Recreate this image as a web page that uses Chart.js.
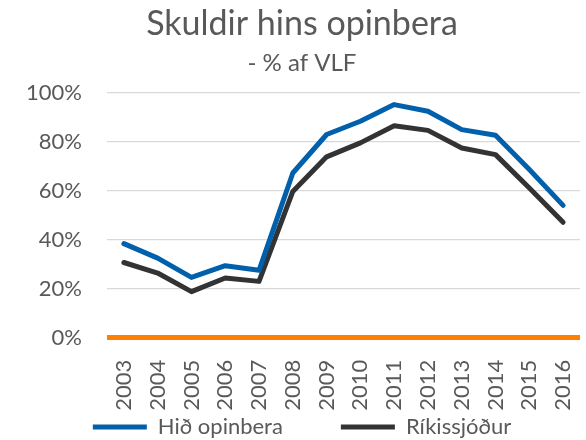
<!DOCTYPE html>
<html>
<head>
<meta charset="utf-8">
<script src="https://cdn.jsdelivr.net/npm/chart.js@4/dist/chart.umd.min.js"></script>
<style>
  html, body { margin: 0; padding: 0; background: #fff; }
  #wrap { width: 586px; height: 440px; position: relative; }
</style>
</head>
<body>
<div id="wrap"><canvas id="skuldir-chart"></canvas></div>
<script>
// Ár
const years = ['2003', '2004', '2005', '2006', '2007', '2008', '2009', '2010', '2011', '2012', '2013', '2014', '2015', '2016'];
// Skuldir, % af VLF
const hidOpinbera = [38.4, 32.5, 24.6, 29.4, 27.5, 67.2, 82.9, 88.3, 95.1, 92.4, 84.9, 82.6, 68.6, 54.0];
const rikissjodur = [30.7, 26.4, 18.8, 24.4, 23.0, 59.7, 73.8, 79.5, 86.5, 84.6, 77.4, 74.7, 61.1, 47.1];
const yTicks = [0, 20, 40, 60, 80, 100];

const textGray = '#595959';
const fontFamily = 'Lato, "Open Sans", sans-serif';

function initSkuldirChart() {
  const ctx = document.getElementById('skuldir-chart');
  if (!ctx) return;

  new Chart(ctx, {
    type: 'line',
    data: {
      labels: years,
      datasets: [
        {
          label: 'Hið opinbera',
          data: hidOpinbera,
          borderColor: '#0060AC',
          backgroundColor: '#0060AC',
          borderWidth: 5,
          pointRadius: 0,
          tension: 0,
          borderJoinStyle: 'round',
          borderCapStyle: 'round'
        },
        {
          label: 'Ríkissjóður',
          data: rikissjodur,
          borderColor: '#333333',
          backgroundColor: '#333333',
          borderWidth: 5,
          pointRadius: 0,
          tension: 0,
          borderJoinStyle: 'round',
          borderCapStyle: 'round'
        }
      ]
    },
    options: {
      responsive: true,
      maintainAspectRatio: false,
      animation: false,
      layout: { padding: { left: 24, right: 6, top: 0, bottom: -8 } },
      plugins: {
        title: {
          display: true,
          text: 'Skuldir hins opinbera',
          color: textGray,
          font: { family: fontFamily, size: 34, weight: 'normal' },
          padding: { top: 4, bottom: 0 }
        },
        subtitle: {
          display: true,
          text: '- % af VLF',
          color: textGray,
          font: { family: fontFamily, size: 24, weight: 'normal' },
          padding: { top: 4, bottom: 15 }
        },
        legend: {
          display: true,
          position: 'bottom',
          // empty title with negative padding pulls the items up so the wide gap doesn't eat height
          title: { display: true, text: '', font: { size: 1 }, padding: { top: -56, bottom: 0 } },
          labels: {
            color: textGray,
            font: { family: fontFamily, size: 22 },
            usePointStyle: true,
            pointStyle: 'line',
            pointStyleWidth: 54,
            padding: 58
          }
        },
        tooltip: { enabled: false }
      },
      scales: {
        x: {
          offset: true,
          grid: {
            display: true,
            drawOnChartArea: false,
            drawTicks: true,
            tickLength: 20,
            color: 'rgba(0,0,0,0)'
          },
          border: { display: false },
          ticks: {
            color: textGray,
            font: { family: fontFamily, size: 22 },
            minRotation: 90,
            maxRotation: 90,
            autoSkip: false,
            padding: 2
          },
          afterFit: (scale) => { scale.paddingLeft = 0; scale.paddingRight = 0; }
        },
        y: {
          min: 0,
          max: 100,
          afterBuildTicks: (scale) => { scale.ticks = yTicks.map(v => ({ value: v })); },
          afterFit: (scale) => { scale.width = 83; },
          border: { display: false },
          grid: {
            drawTicks: false,
            color: (c) => c.tick && c.tick.value === 0 ? '#FF7F00' : '#D9D9D9',
            lineWidth: (c) => c.tick && c.tick.value === 0 ? 5 : 1.3
          },
          ticks: {
            color: textGray,
            font: { family: fontFamily, size: 22 },
            padding: 25,
            autoSkip: false,
            callback: (value) => value + '%'
          }
        }
      }
    }
  });
}

document.addEventListener('DOMContentLoaded', initSkuldirChart);
</script>
</body>
</html>
